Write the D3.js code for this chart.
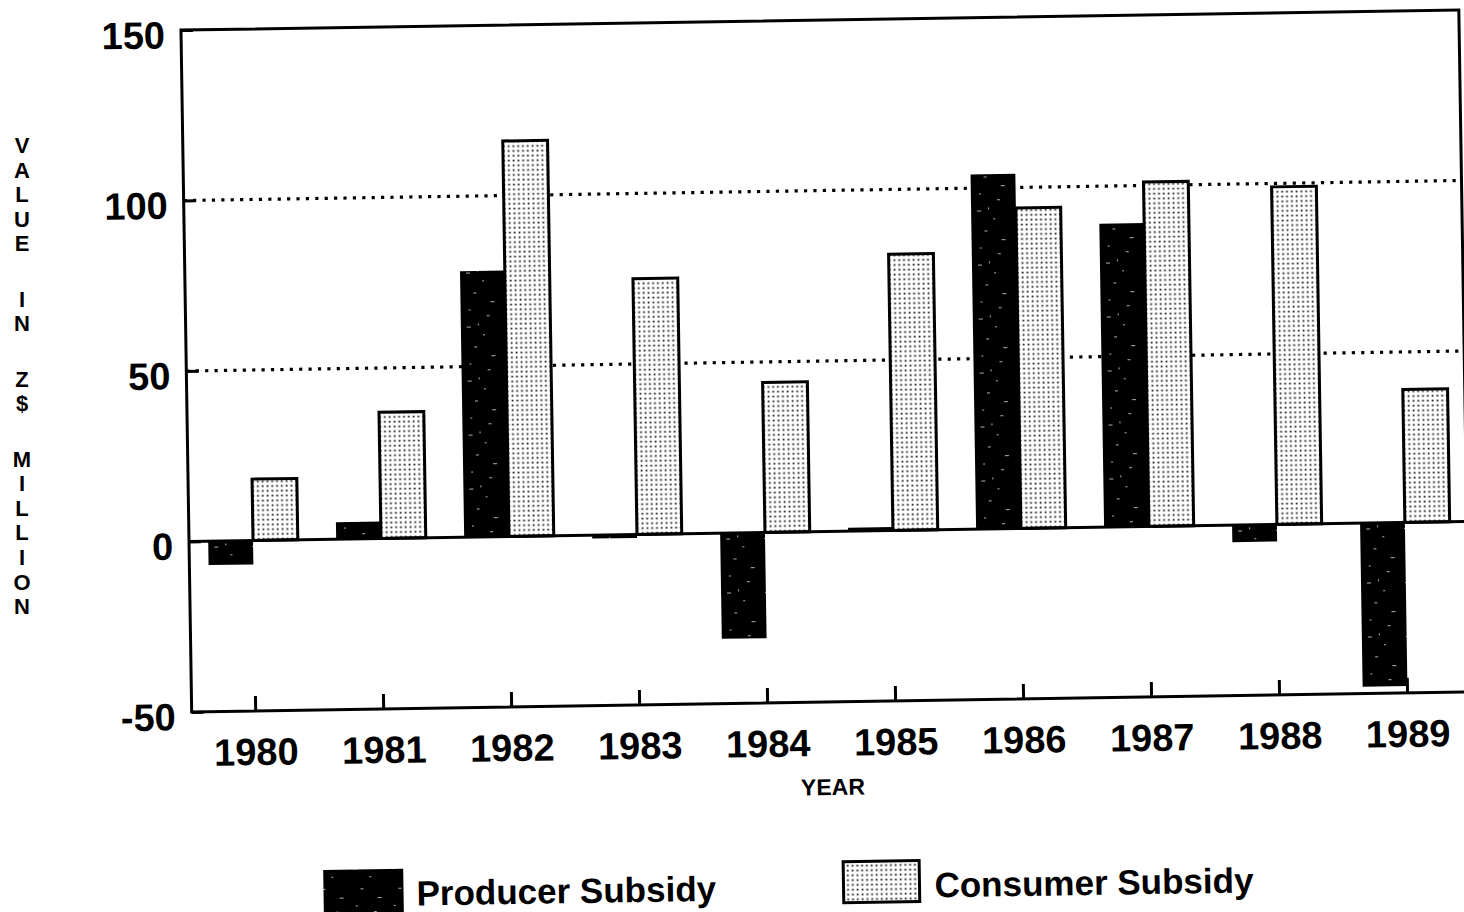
<!DOCTYPE html>
<html>
<head>
<meta charset="utf-8">
<script src="https://cdn.jsdelivr.net/npm/d3@7"></script>
<style>
  html, body { margin: 0; padding: 0; background: #fff; }
  svg { display: block; font-family: "Liberation Sans", Arial, sans-serif; }
</style>
</head>
<body>
<div id="chart"></div>
<script>
// values (Z$ million)
var years = ["1980", "1981", "1982", "1983", "1984", "1985", "1986", "1987", "1988", "1989"];
var producer = [-7, 5, 78, -1, -31, 1, 104, 89, -5, -48];
var consumer = [18, 37, 116, 75, 44, 81, 94, 101, 99, 39];
var yTicks = [-50, 0, 50, 100, 150];
var gridValues = [50, 100];
var seriesKeys = ["Producer Subsidy", "Consumer Subsidy"];
var yTitle = "VALUE IN Z$ MILLION";

var w = 1464, h = 912;
const marginTop = 30;
const marginLeft = 189;
const plotRight = 1467;
const plotBottom = 712;

var rows = years.map(function(y, i) {
    return { year: y, values: [producer[i], consumer[i]] };
});

var svg = d3.select("#chart")
    .append("svg")
    .attr("width", w)
    .attr("height", h)
    .attr("viewBox", [0, 0, w, h]);

var defs = svg.append("defs");

// light dot screen used for consumer bars
var dots = defs.append("pattern")
    .attr("id", "dots")
    .attr("patternUnits", "userSpaceOnUse")
    .attr("width", 4.8).attr("height", 4.8);
dots.append("rect").attr("width", 4.8).attr("height", 4.8).attr("fill", "#fff");
dots.append("rect").attr("x", 1.6).attr("y", 1.6).attr("width", 1.8).attr("height", 1.8).attr("fill", "#222");

// dark fill with a few scan specks for producer bars
var speck = defs.append("pattern")
    .attr("id", "speck")
    .attr("patternUnits", "userSpaceOnUse")
    .attr("width", 38).attr("height", 54);
speck.append("rect").attr("width", 38).attr("height", 54).attr("fill", "#000");
[[6, 7, 4, 1], [22, 15, 2, 1], [13, 27, 3, 1], [30, 36, 4, 1], [8, 44, 2, 1], [26, 50, 3, 1], [17, 4, 1, 2]]
    .forEach(function(s) {
        speck.append("rect").attr("x", s[0]).attr("y", s[1]).attr("width", s[2]).attr("height", s[3])
            .attr("fill", "#ddd").attr("opacity", 0.8);
    });

var x0 = d3.scaleBand()
    .domain(years)
    .range([marginLeft, marginLeft + 1280])
    .paddingInner(0.3)
    .paddingOuter(0.15);

var x1 = d3.scaleBand()
    .domain([0, 1])
    .range([0, x0.bandwidth()]);

var y = d3.scaleLinear()
    .domain([-50, 150])
    .range([plotBottom, marginTop]);

// the scanned page is slightly tilted
var g = svg.append("g")
    .attr("transform", "rotate(-0.9, 190, 541)");

// dotted grid lines
g.append("g")
    .selectAll("line")
    .data(gridValues)
    .join("line")
    .attr("x1", marginLeft)
    .attr("x2", plotRight)
    .attr("y1", d => y(d))
    .attr("y2", d => y(d))
    .attr("stroke", "#000")
    .attr("stroke-width", 3.2)
    .attr("stroke-dasharray", "3.2,6.2");

// bars
g.append("g")
    .selectAll("g")
    .data(rows)
    .join("g")
    .attr("transform", d => `translate(${x0(d.year)},0)`)
    .selectAll("rect")
    .data(d => d.values.map((v, i) => ({ k: i, v: v })))
    .join("rect")
    .attr("x", d => x1(d.k))
    .attr("width", x1.bandwidth())
    .attr("y", d => y(Math.max(0, d.v)))
    .attr("height", d => Math.abs(y(d.v) - y(0)))
    .attr("fill", d => d.k === 0 ? "url(#speck)" : "url(#dots)")
    .attr("stroke", d => d.k === 0 ? "none" : "#000")
    .attr("stroke-width", 3);

// zero line
g.append("line")
    .attr("x1", marginLeft).attr("x2", plotRight)
    .attr("y1", y(0)).attr("y2", y(0))
    .attr("stroke", "#000").attr("stroke-width", 3);

// frame
g.append("rect")
    .attr("x", marginLeft).attr("y", marginTop)
    .attr("width", plotRight - marginLeft)
    .attr("height", plotBottom - marginTop)
    .attr("fill", "none")
    .attr("stroke", "#000")
    .attr("stroke-width", 3);

// y axis
g.append("g")
    .attr("transform", `translate(${marginLeft},0)`)
    .call(d3.axisLeft(y).tickValues(yTicks).tickSize(-12).tickPadding(16).tickFormat(d => String(d)))
    .call(g => g.select(".domain").remove())
    .call(g => g.selectAll(".tick line").attr("stroke-width", 3))
    .call(g => g.selectAll(".tick text")
        .attr("dy", "0.46em")
        .attr("fill", "#000")
        .style("font-size", "38px")
        .style("font-weight", "bold")
        .style("font-family", "'Liberation Sans', Arial, sans-serif"));

// x axis
g.append("g")
    .attr("transform", `translate(0,${plotBottom})`)
    .call(d3.axisBottom(x0).tickSize(-15))
    .call(g => g.select(".domain").remove())
    .call(g => g.selectAll(".tick line").attr("stroke-width", 3))
    .call(g => g.selectAll(".tick text")
        .attr("y", 54)
        .attr("dy", 0)
        .attr("fill", "#000")
        .style("font-size", "38px")
        .style("font-weight", "bold")
        .style("font-family", "'Liberation Sans', Arial, sans-serif"));

g.append("text")
    .attr("x", 829)
    .attr("y", 805)
    .attr("text-anchor", "middle")
    .style("font-size", "23px")
    .style("font-weight", "bold")
    .text("YEAR");

// legend
var legendPos = [
    { rx: 318, rw: 80, rh: 46, tx: 411, ty: 909 },
    { rx: 838, rw: 76, rh: 41, tx: 929, ty: 909 }
];
var legend = g.append("g")
    .selectAll("g")
    .data(seriesKeys)
    .join("g");
legend.append("rect")
    .attr("x", (d, i) => legendPos[i].rx)
    .attr("y", 872)
    .attr("width", (d, i) => legendPos[i].rw)
    .attr("height", (d, i) => legendPos[i].rh)
    .attr("fill", (d, i) => i === 0 ? "url(#speck)" : "url(#dots)")
    .attr("stroke", (d, i) => i === 0 ? "none" : "#000")
    .attr("stroke-width", 3);
legend.append("text")
    .attr("x", (d, i) => legendPos[i].tx)
    .attr("y", (d, i) => legendPos[i].ty)
    .style("font-size", "35px")
    .style("font-weight", "bold")
    .text(d => d);

// vertical stacked y title
var letters = [];
var pos = 0;
yTitle.split("").forEach(function(c) {
    if (c === " ") { pos += 1.25; return; }
    letters.push({ c: c, p: pos });
    pos += 1;
});
svg.append("g")
    .selectAll("text")
    .data(letters)
    .join("text")
    .attr("x", 22)
    .attr("y", d => 153 + d.p * 24.6)
    .attr("text-anchor", "middle")
    .style("font-size", "22px")
    .style("font-weight", "900")
    .text(d => d.c);
</script>
</body>
</html>
